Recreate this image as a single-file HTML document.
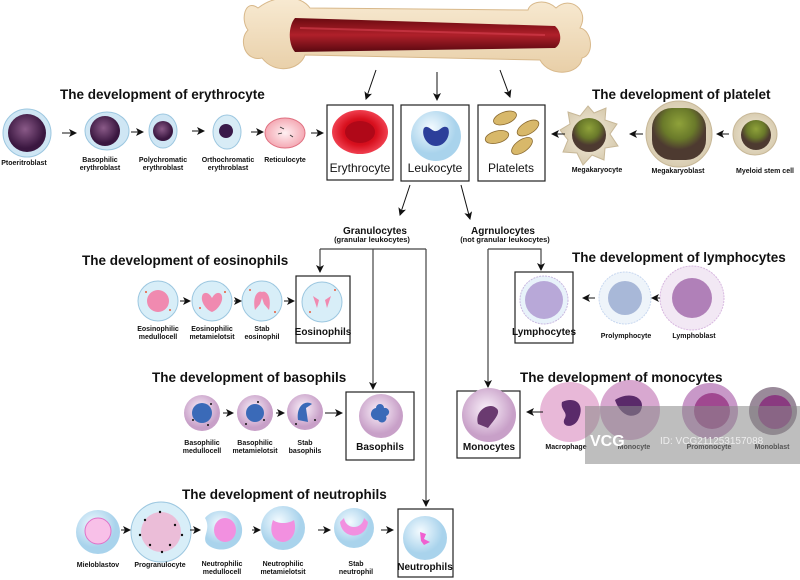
<!DOCTYPE html>
<html><head><meta charset="utf-8"><style>
html,body{margin:0;padding:0;background:#fff}
svg{display:block}
.t{font:bold 13.5px "Liberation Sans",sans-serif;fill:#111}
.l{font:bold 7px "Liberation Sans",sans-serif;fill:#111;text-anchor:middle}
.b{font:12px "Liberation Sans",sans-serif;fill:#111;text-anchor:middle}
.bb{font:bold 10px "Liberation Sans",sans-serif;fill:#111;text-anchor:middle}
.g{font:bold 10px "Liberation Sans",sans-serif;fill:#111;text-anchor:middle}
.gs{font:bold 7.5px "Liberation Sans",sans-serif;fill:#111;text-anchor:middle}
</style></head><body>
<svg width="800" height="580" viewBox="0 0 800 580" xmlns="http://www.w3.org/2000/svg">
<defs>
<marker id="a" markerWidth="8" markerHeight="8" refX="7" refY="4" orient="auto" markerUnits="userSpaceOnUse"><path d="M0,0 L8,4 L0,8 L2,4z" fill="#111"/></marker>
<radialGradient id="blue" cx="40%" cy="35%"><stop offset="0" stop-color="#f4fbff"/><stop offset="1" stop-color="#a9d3ec"/></radialGradient>
<radialGradient id="pur" cx="45%" cy="40%"><stop offset="0" stop-color="#8a5a88"/><stop offset="1" stop-color="#3a1740"/></radialGradient>
<radialGradient id="red" cx="50%" cy="50%"><stop offset="0" stop-color="#a80010"/><stop offset="0.6" stop-color="#d8101e"/><stop offset="1" stop-color="#f04050"/></radialGradient>
<radialGradient id="grn" cx="50%" cy="30%"><stop offset="0" stop-color="#8fa23a"/><stop offset="0.6" stop-color="#6a7a2a"/><stop offset="1" stop-color="#4d3a30"/></radialGradient>
<radialGradient id="beige" cx="50%" cy="50%"><stop offset="0" stop-color="#f6efe0"/><stop offset="1" stop-color="#d8ccb0"/></radialGradient>
<radialGradient id="pink" cx="50%" cy="50%"><stop offset="0" stop-color="#fff0f2"/><stop offset="1" stop-color="#f4a9b4"/></radialGradient>
<radialGradient id="lav" cx="45%" cy="40%"><stop offset="0" stop-color="#fbf2fb"/><stop offset="1" stop-color="#c8a0c8"/></radialGradient>
<linearGradient id="bone" x1="0" y1="0" x2="0" y2="1"><stop offset="0" stop-color="#f8ead2"/><stop offset="1" stop-color="#e8cfa8"/></linearGradient>
<linearGradient id="marrow" x1="0" y1="0" x2="0" y2="1"><stop offset="0" stop-color="#6a0a10"/><stop offset="0.5" stop-color="#b0202a"/><stop offset="1" stop-color="#5a0810"/></linearGradient>
</defs>

<!-- bone -->
<path d="M258,8 C245,-2 240,20 248,30 C238,40 245,62 262,58 C275,75 300,70 305,55 L540,60 C550,78 580,75 582,58 C595,55 592,30 580,28 C590,10 570,-5 556,8 C545,-2 530,2 528,10 L310,8 C300,-6 275,-5 258,8Z" fill="url(#bone)" stroke="#d8b88a" stroke-width="1"/>
<path d="M295,18 L555,26 C562,32 562,44 555,48 L295,52 C288,44 288,26 295,18Z" fill="url(#marrow)"/>
<path d="M300,28 L545,35" stroke="#d84050" stroke-width="2" opacity="0.6"/>

<!-- top arrows -->
<line x1="376" y1="70" x2="366" y2="99" stroke="#111" marker-end="url(#a)"/>
<line x1="437" y1="72" x2="437" y2="100" stroke="#111" marker-end="url(#a)"/>
<line x1="500" y1="70" x2="510" y2="97" stroke="#111" marker-end="url(#a)"/>

<!-- titles -->
<text class="t" x="60" y="99">The development of erythrocyte</text>
<text class="t" x="592" y="99">The development of platelet</text>
<text class="t" x="82" y="265">The development of eosinophils</text>
<text class="t" x="572" y="262">The development of lymphocytes</text>
<text class="t" x="152" y="382">The development of basophils</text>
<text class="t" x="520" y="382">The development of monocytes</text>
<text class="t" x="182" y="499">The development of neutrophils</text>

<!-- main boxes -->
<rect x="327" y="105" width="66" height="75" fill="#fff" stroke="#222" stroke-width="1.2"/>
<ellipse cx="360" cy="132" rx="28" ry="22" fill="url(#red)"/>
<ellipse cx="360" cy="132" rx="15" ry="11" fill="#b00818"/>
<text class="b" x="360" y="172">Erythrocyte</text>
<rect x="401" y="105" width="68" height="76" fill="#fff" stroke="#222" stroke-width="1.2"/>
<circle cx="436" cy="136" r="25" fill="url(#blue)"/>
<path d="M424,128 C428,124 432,132 436,131 C440,131 443,124 448,128 C451,134 446,146 436,146 C426,146 421,134 424,128Z" fill="#2c3f9a"/>
<text class="b" x="435" y="172">Leukocyte</text>
<rect x="478" y="105" width="67" height="76" fill="#fff" stroke="#222" stroke-width="1.2"/>
<g fill="#d8b86a" stroke="#8a6a30" stroke-width="0.8">
<ellipse cx="505" cy="118" rx="12" ry="6" transform="rotate(-20 505 118)"/>
<ellipse cx="528" cy="128" rx="12" ry="6" transform="rotate(-30 528 128)"/>
<ellipse cx="497" cy="137" rx="12" ry="6" transform="rotate(-15 497 137)"/>
<ellipse cx="522" cy="146" rx="12" ry="6" transform="rotate(-35 522 146)"/>
</g>
<text class="b" x="511" y="172">Platelets</text>

<!-- erythro chain -->
<circle cx="27" cy="133" r="24" fill="#cfe6f4" stroke="#9cc7e0"/>
<circle cx="27" cy="133" r="19" fill="url(#pur)"/>
<ellipse cx="107" cy="131" rx="22" ry="19" fill="#cfe6f4" stroke="#9cc7e0"/>
<circle cx="105" cy="131" r="15" fill="url(#pur)"/>
<ellipse cx="163" cy="131" rx="14" ry="17" fill="#cfe6f4" stroke="#9cc7e0"/>
<circle cx="163" cy="131" r="10" fill="url(#pur)"/>
<ellipse cx="227" cy="132" rx="14" ry="17" fill="#d8ecf6" stroke="#9cc7e0"/>
<circle cx="226" cy="131" r="7" fill="#3a1a4a"/>
<ellipse cx="285" cy="133" rx="20" ry="15" fill="url(#pink)" stroke="#e07080"/>
<g stroke="#333" stroke-width="0.8"><path d="M280,127l4,2M278,134l4,-1M290,135l3,2"/></g>
<g stroke="#111" marker-end="url(#a)">
<line x1="62" y1="133" x2="76" y2="133"/><line x1="131" y1="132" x2="143" y2="132"/>
<line x1="192" y1="131" x2="204" y2="131"/><line x1="251" y1="132" x2="263" y2="132"/>
<line x1="311" y1="133" x2="323" y2="133"/>
</g>
<text class="l" x="24" y="165">Ptoeritroblast</text>
<text class="l" x="100" y="162">Basophilic</text><text class="l" x="100" y="170">erythroblast</text>
<text class="l" x="163" y="162">Polychromatic</text><text class="l" x="163" y="170">erythroblast</text>
<text class="l" x="228" y="162">Orthochromatic</text><text class="l" x="228" y="170">erythroblast</text>
<text class="l" x="285" y="162">Reticulocyte</text>

<!-- platelet chain -->
<path d="M588,106 L594,113 L606,108 L605,120 L617,124 L610,134 L618,146 L605,148 L604,160 L592,155 L583,165 L577,153 L563,152 L568,140 L560,130 L570,124 L568,112 L580,116Z" fill="url(#beige)" stroke="#c8b898"/>
<circle cx="589" cy="135" r="17" fill="url(#grn)"/>
<circle cx="679" cy="134" r="33" fill="url(#beige)" stroke="#c8b898"/>
<rect x="652" y="108" width="54" height="52" rx="20" fill="url(#grn)"/>
<ellipse cx="755" cy="134" rx="22" ry="21" fill="url(#beige)" stroke="#c8b898"/>
<circle cx="756" cy="135" r="15" fill="url(#grn)"/>
<g stroke="#111" marker-end="url(#a)">
<line x1="565" y1="134" x2="552" y2="134"/><line x1="643" y1="134" x2="630" y2="134"/>
<line x1="729" y1="134" x2="717" y2="134"/>
</g>
<text class="l" x="597" y="172">Megakaryocyte</text>
<text class="l" x="678" y="173">Megakaryoblast</text>
<text class="l" x="765" y="173">Myeloid stem cell</text>

<!-- leukocyte split -->
<line x1="410" y1="185" x2="400" y2="215" stroke="#111" marker-end="url(#a)"/>
<line x1="461" y1="185" x2="470" y2="219" stroke="#111" marker-end="url(#a)"/>
<text class="g" x="375" y="234">Granulocytes</text>
<text class="gs" x="372" y="242">(granular leukocytes)</text>
<text class="g" x="503" y="234">Agrnulocytes</text>
<text class="gs" x="505" y="242">(not granular leukocytes)</text>
<g stroke="#444" stroke-width="1.2" fill="none">
<path d="M320,249 H426"/><path d="M320,249 V272" marker-end="url(#a)"/>
<path d="M373,249 V389" marker-end="url(#a)"/>
<path d="M426,249 V506" marker-end="url(#a)"/>
<path d="M488,249 H541 V270" marker-end="url(#a)"/>
<path d="M488,249 V387" marker-end="url(#a)"/>
</g>

<!-- eosinophils -->
<rect x="296" y="276" width="54" height="67" fill="#fff" stroke="#222" stroke-width="1.2"/>
<g fill="#d8eef8" stroke="#9cc7e0">
<circle cx="158" cy="301" r="20"/><circle cx="212" cy="301" r="20"/><circle cx="262" cy="301" r="20"/><circle cx="322" cy="302" r="20"/>
</g>
<circle cx="158" cy="301" r="11" fill="#f08ab0"/>
<path d="M203,294 C208,290 212,298 212,298 C212,298 216,290 221,294 C225,300 218,310 212,312 C206,310 199,300 203,294Z" fill="#f08ab0"/>
<path d="M255,310 C252,296 258,290 262,292 C266,290 272,296 269,310 L264,304 L262,298 L260,304Z" fill="#f08ab0"/>
<path d="M313,296 l6,4 l-2,8z M331,296 l-6,4 l2,8z" fill="#f08ab0"/>
<g fill="#e85a3a"><circle cx="146" cy="292" r="1"/><circle cx="170" cy="310" r="1"/><circle cx="200" cy="308" r="1"/><circle cx="225" cy="292" r="1"/><circle cx="250" cy="290" r="1"/><circle cx="275" cy="312" r="1"/><circle cx="310" cy="312" r="1"/><circle cx="335" cy="290" r="1"/></g>
<g stroke="#111" marker-end="url(#a)"><line x1="180" y1="301" x2="190" y2="301"/><line x1="234" y1="301" x2="241" y2="301"/><line x1="284" y1="301" x2="294" y2="301"/></g>
<text class="l" x="158" y="331">Eosinophilic</text><text class="l" x="158" y="339">medullocell</text>
<text class="l" x="212" y="331">Eosinophilic</text><text class="l" x="212" y="339">metamielotsit</text>
<text class="l" x="262" y="331">Stab</text><text class="l" x="262" y="339">eosinophil</text>
<text class="bb" x="323" y="335">Eosinophils</text>

<!-- lymphocytes -->
<rect x="515" y="272" width="58" height="71" fill="#fff" stroke="#222" stroke-width="1.2"/>
<circle cx="544" cy="300" r="24" fill="#e8f2fa" stroke="#c8b8e0" stroke-dasharray="2 1"/>
<circle cx="544" cy="300" r="19" fill="#b8a8d8"/>
<circle cx="625" cy="298" r="26" fill="#eef4fa" stroke="#c8d8f0" stroke-dasharray="2 1"/>
<circle cx="625" cy="298" r="17" fill="#a8b8d8"/>
<circle cx="692" cy="298" r="32" fill="#f2e8f4" stroke="#d8b8e0" stroke-dasharray="2 1"/>
<circle cx="692" cy="298" r="20" fill="#b080b8"/>
<g stroke="#111" marker-end="url(#a)"><line x1="595" y1="298" x2="583" y2="298"/><line x1="660" y1="298" x2="652" y2="298"/></g>
<text class="bb" x="544" y="335">Lymphocytes</text>
<text class="l" x="626" y="338">Prolymphocyte</text>
<text class="l" x="694" y="338">Lymphoblast</text>

<!-- basophils -->
<rect x="346" y="392" width="68" height="68" fill="#fff" stroke="#222" stroke-width="1.2"/>
<g fill="url(#lav)"><circle cx="202" cy="413" r="18"/><circle cx="255" cy="413" r="18"/><circle cx="305" cy="412" r="18"/><circle cx="381" cy="416" r="22"/></g>
<circle cx="202" cy="413" r="10" fill="#3a6ab8"/>
<circle cx="255" cy="413" r="9" fill="#3a6ab8"/>
<path d="M298,420 C296,405 306,400 312,404 L306,408 L308,422Z" fill="#3a6ab8"/>
<path d="M376,408 a4,4 0 1,1 8,0 a4,4 0 1,1 2,8 a4,4 0 1,1 -8,4 a4,4 0 1,1 -2,-12z" fill="#3a6ab8"/>
<g fill="#111"><circle cx="193" cy="420" r="1"/><circle cx="208" cy="425" r="1"/><circle cx="211" cy="404" r="1"/><circle cx="246" cy="424" r="1"/><circle cx="264" cy="420" r="1"/><circle cx="258" cy="402" r="1"/><circle cx="296" cy="424" r="1"/><circle cx="315" cy="420" r="1"/></g>
<g stroke="#111" marker-end="url(#a)"><line x1="223" y1="413" x2="233" y2="413"/><line x1="276" y1="413" x2="284" y2="413"/><line x1="325" y1="413" x2="342" y2="413"/></g>
<text class="l" x="202" y="445">Basophilic</text><text class="l" x="202" y="453">medullocell</text>
<text class="l" x="255" y="445">Basophilic</text><text class="l" x="255" y="453">metamielotsit</text>
<text class="l" x="305" y="445">Stab</text><text class="l" x="305" y="453">basophils</text>
<text class="bb" x="380" y="450">Basophils</text>

<!-- monocytes -->
<rect x="457" y="391" width="63" height="67" fill="#fff" stroke="#222" stroke-width="1.2"/>
<circle cx="489" cy="415" r="27" fill="url(#lav)"/>
<path d="M478,424 C474,410 490,402 496,408 C502,412 494,420 488,428Z" fill="#6a3a70"/>
<circle cx="570" cy="412" r="30" fill="#e8b8d8"/>
<path d="M562,402 C575,396 586,404 578,420 C572,430 560,426 565,418 C568,412 560,410 562,402Z" fill="#5a2a6a"/>
<circle cx="630" cy="410" r="30" fill="#d8a8d0"/>
<path d="M615,400 C630,390 648,398 640,412 C632,420 620,415 615,400Z" fill="#5a2a6a"/>
<circle cx="710" cy="411" r="28" fill="#c898c8"/>
<circle cx="712" cy="411" r="18" fill="#a04890"/>
<circle cx="773" cy="411" r="24" fill="#9a8a9a"/>
<circle cx="775" cy="412" r="17" fill="#8a3a80"/>
<line x1="543" y1="412" x2="527" y2="412" stroke="#111" marker-end="url(#a)"/>
<text class="bb" x="489" y="450">Monocytes</text>
<text class="l" x="566" y="449">Macrophage</text>
<text class="l" x="634" y="449">Monocyte</text>
<text class="l" x="709" y="449">Promonocyte</text>
<text class="l" x="772" y="449">Monoblast</text>
<rect x="585" y="406" width="215" height="58" fill="#888" opacity="0.55"/>
<text x="590" y="446" style="font:bold 16px 'Liberation Sans',sans-serif;fill:#fff">VCG</text>
<text x="660" y="444" style="font:10px 'Liberation Sans',sans-serif;fill:#eee">ID: VCG211253157088</text>

<!-- neutrophils -->
<rect x="398" y="509" width="55" height="68" fill="#fff" stroke="#222" stroke-width="1.2"/>
<circle cx="98" cy="532" r="22" fill="url(#blue)"/>
<circle cx="98" cy="531" r="13" fill="#f8c0e8" stroke="#e070c8"/>
<circle cx="161" cy="532" r="30" fill="#d8eef8" stroke="#9cc7e0"/>
<circle cx="161" cy="532" r="20" fill="#f0b0d0" opacity="0.8"/>
<g fill="#111"><circle cx="145" cy="520" r="1.2"/><circle cx="175" cy="525" r="1.2"/><circle cx="150" cy="545" r="1.2"/><circle cx="170" cy="545" r="1.2"/><circle cx="160" cy="512" r="1.2"/><circle cx="140" cy="535" r="1.2"/><circle cx="182" cy="535" r="1.2"/><circle cx="162" cy="552" r="1.2"/></g>
<path d="M205,518 C215,505 240,510 242,528 C244,548 220,555 208,545 C200,538 212,530 205,518Z" fill="url(#blue)"/>
<ellipse cx="225" cy="530" rx="11" ry="12" fill="#f290e0"/>
<circle cx="283" cy="528" r="22" fill="url(#blue)"/>
<path d="M273,520 C278,524 288,524 294,520 C298,534 290,542 283,542 C275,542 268,534 273,520Z" fill="#f290e0"/>
<circle cx="354" cy="528" r="20" fill="url(#blue)"/>
<path d="M344,518 C346,530 362,530 364,518 L368,522 C366,540 342,540 340,522Z" fill="#f290e0"/>
<circle cx="425" cy="538" r="22" fill="url(#blue)"/>
<path d="M420,532 l6,2 l-2,5 l6,3 l-6,3 l-3,-4z" fill="#f060d0"/>
<g stroke="#111" marker-end="url(#a)"><line x1="121" y1="530" x2="130" y2="530"/><line x1="190" y1="530" x2="200" y2="530"/><line x1="252" y1="530" x2="260" y2="530"/><line x1="318" y1="530" x2="330" y2="530"/><line x1="381" y1="530" x2="393" y2="530"/></g>
<text class="l" x="98" y="567">Mieloblastov</text>
<text class="l" x="160" y="567">Progranulocyte</text>
<text class="l" x="222" y="566">Neutrophilic</text><text class="l" x="222" y="574">medullocell</text>
<text class="l" x="283" y="566">Neutrophilic</text><text class="l" x="283" y="574">metamielotsit</text>
<text class="l" x="356" y="566">Stab</text><text class="l" x="356" y="574">neutrophil</text>
<text class="bb" x="425" y="570">Neutrophils</text>
</svg>
</body></html>
